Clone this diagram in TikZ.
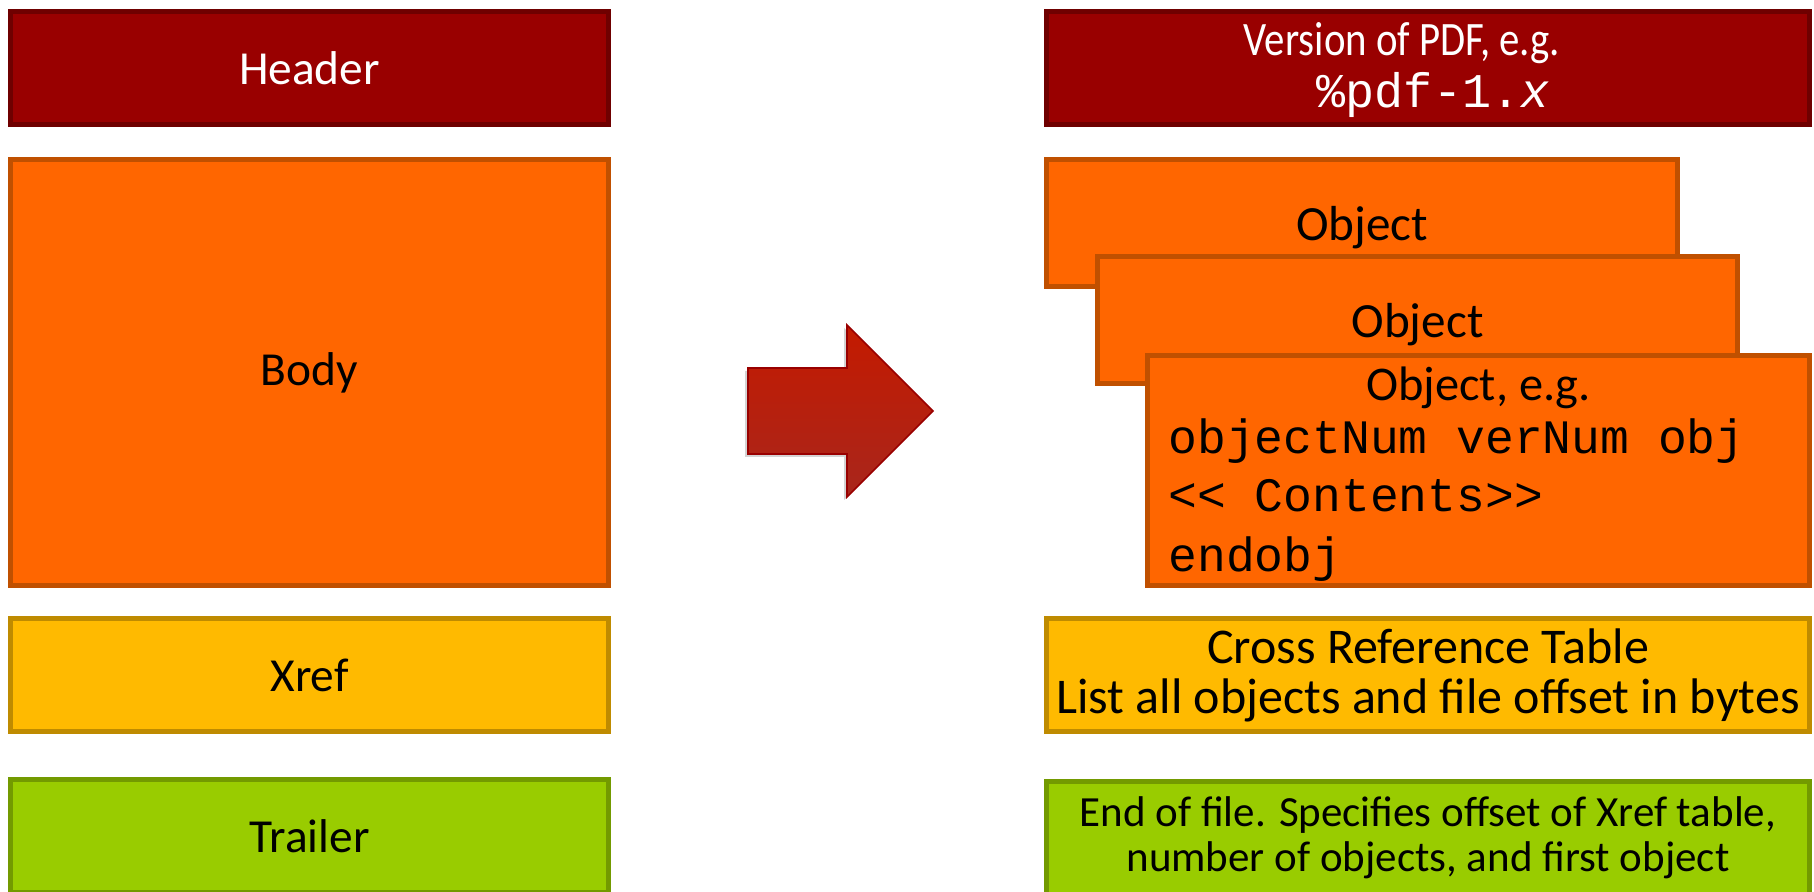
\documentclass[tikz,border=0pt]{standalone}
\usepackage{fontspec}
\setmainfont{Carlito}
\setmonofont{Liberation Mono}
\usetikzlibrary{calc, shadows}

\definecolor{hdrred}{HTML}{990000}
\definecolor{hdrline}{HTML}{6F0000}
\definecolor{bodyor}{HTML}{FF6600}
\definecolor{bodyline}{HTML}{C05000}
\definecolor{xrefyel}{HTML}{FFBA00}
\definecolor{xrefline}{HTML}{BF8B00}
\definecolor{trlgreen}{HTML}{99CC00}
\definecolor{trlline}{HTML}{739A00}
\definecolor{arrtop}{HTML}{C41A00}
\definecolor{arrbot}{HTML}{A8261C}
\definecolor{arrline}{HTML}{990000}

\begin{document}
\begin{tikzpicture}[x=0.5pt, y=-0.5pt, font=\fontsize{23.7}{26.5}\selectfont]
        \tikzstyle{every node}=[rectangle, line width=2.5pt, align=center, inner sep=0pt]
        \tikzstyle{hdrbox}=[draw=hdrline, fill=hdrred, text=white, minimum height=56.5pt]
        \tikzstyle{objbox}=[draw=bodyline, fill=bodyor]
        \tikzstyle{xrefbox}=[draw=xrefline, fill=xrefyel, minimum height=56.5pt]
        \tikzstyle{trlbox}=[draw=trlline, fill=trlgreen, minimum height=56.5pt]
        \tikzstyle{code}=[anchor=base west, font=\fontsize{24}{26.5}\ttfamily]
        \useasboundingbox (0,0) rectangle (1814,892);

        % file layout
        \node[hdrbox, minimum width=299pt] (header) at (309.5,68) {Header};
        \node[objbox, minimum width=299pt, minimum height=213pt] (body) at (309.5,372.5) {Body};
        \node[xrefbox, minimum width=299pt] (xref) at (309.5,675) {Xref};
        \node[trlbox, minimum width=299pt] (trailer) at (309.5,836) {Trailer};

        % what each part holds
        \node[hdrbox, minimum width=381.5pt] (version) at (1428,68) {};
        \node[text=white, font=\fontsize{24}{26.5}\selectfont, anchor=base] (vertext) at (1402,56)
            {\scalebox{0.85}[1]{Version of PDF, e.g.}};
        \node[text=white, font=\fontsize{24.2}{26.5}\ttfamily, anchor=base] (pdfver) at (1433,108)
            {\%pdf-1.\textit{x}};
        \node[objbox, minimum width=315.5pt, minimum height=63.5pt, text depth=0pt,
              font=\fontsize{24.6}{26.5}\selectfont] (obja) at (1362,223) {Object};
        \node[objbox, minimum width=320pt, minimum height=63.5pt, text depth=0pt,
              font=\fontsize{24.6}{26.5}\selectfont] (objb) at (1417.5,320) {Object};
        \node[objbox, minimum width=331pt, minimum height=115pt] (objc) at (1478.5,470.5) {};
        \node[anchor=base, font=\fontsize{24.2}{26.5}\selectfont] (objtitle) at (1478.5,401) {Object, e.g.};
        \node[code] (objline) at (1166,454) {objectNum verNum obj};
        \node[code] (objcont) at (1166,512) {<{}< Contents>{}>};
        \node[code] (objend) at (1166,571) {endobj};
        \node[xrefbox, minimum width=381.5pt, font=\fontsize{25}{25}\selectfont] (xtable) at (1428,675)
            {Cross Reference Table\\List all objects and file offset in bytes};
        \node[trlbox, minimum width=381.5pt, font=\fontsize{21.5}{22.5}\selectfont] (eof) at (1428,838)
            {End of file. Specifies offset of Xref table,\\number of objects, and first object};

        % big arrow
        \draw[draw=arrline, line width=0.8pt, top color=arrtop, bottom color=arrbot,
              drop shadow={opacity=0.35, shadow xshift=-1.5pt, shadow yshift=-1.5pt}]
            (748,368) -- (847,368) -- (847,325) -- (933,411) -- (847,497) -- (847,454) -- (748,454) -- cycle;
    \end{tikzpicture}
\end{document}
